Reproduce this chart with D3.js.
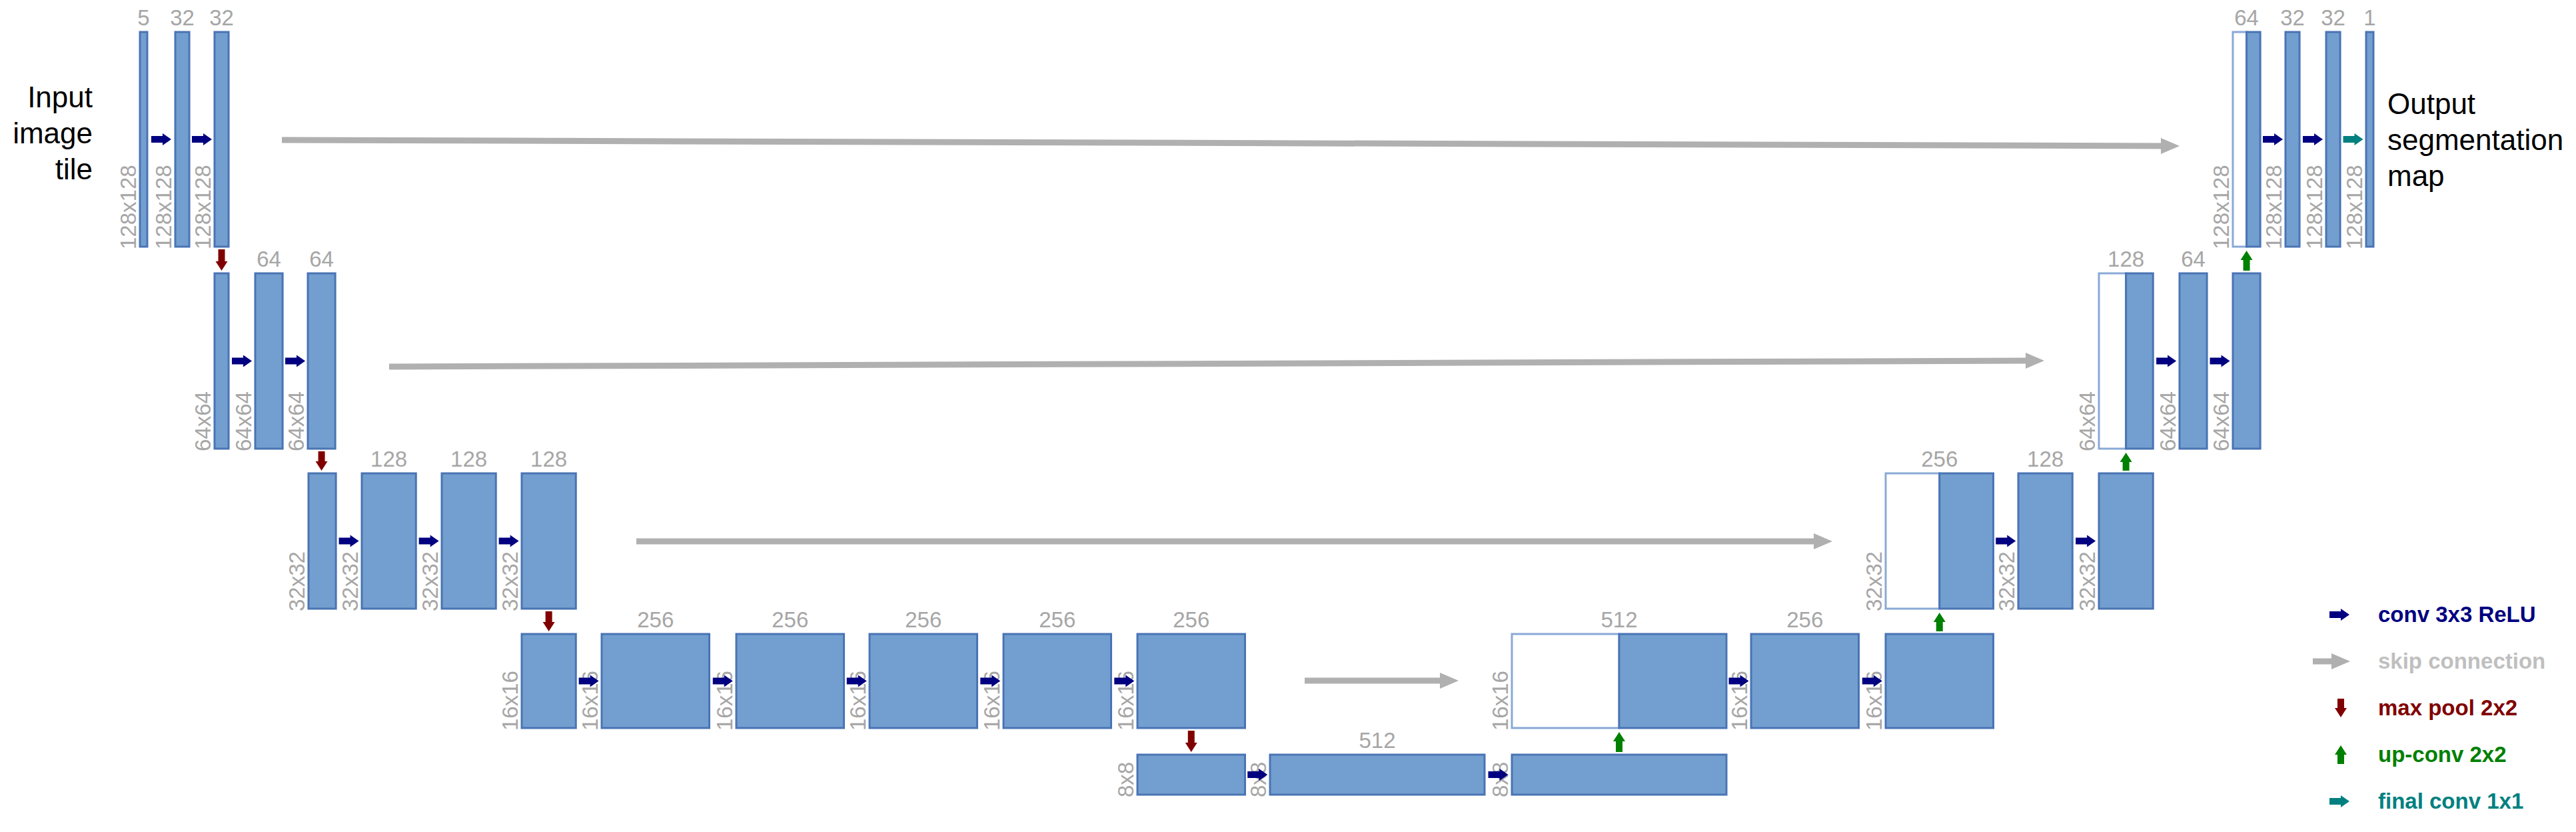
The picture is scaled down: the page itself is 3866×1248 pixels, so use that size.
<!DOCTYPE html>
<html>
<head>
<meta charset="utf-8">
<script src="https://cdn.jsdelivr.net/npm/d3@7"></script>
<style>
  body { margin: 0; background: #fff; }
  text { font-family: "Liberation Sans", Arial, sans-serif; }
</style>
</head>
<body>
<svg id="chart" width="3866" height="1248"></svg>
<script>
// spatial size per level, the top of each level's row and its drawn height
const levelSizes = [128, 64, 32, 16, 8];
const levelTops = [48, 410, 710, 951, 1132];
const levelHeights = [322, 263, 203, 141, 60];

// blocks: left edge, channels, show channel label, concat (half white)
const encLeft = [
  [[210, 5, 1], [263, 32, 1], [322, 32, 1]],
  [[322, 32, 0], [383, 64, 1], [462, 64, 1]],
  [[463, 64, 0], [543, 128, 1], [663, 128, 1], [783, 128, 1]],
  [[783, 128, 0], [903, 256, 1], [1105, 256, 1], [1305, 256, 1], [1506, 256, 1], [1707, 256, 1]],
  [[1707, 256, 0], [1906, 512, 1], [2269, 512, 0]]
];
const decRight = [
  [[3351, 64, 1, true], [3430, 32, 1], [3491, 32, 1], [3551, 1, 1]],
  [[3150, 128, 1, true], [3271, 64, 1], [3351, 64, 0]],
  [[2830, 256, 1, true], [3029, 128, 1], [3150, 128, 0]],
  [[2269, 512, 1, true], [2628, 256, 1], [2830, 256, 0]],
  []
];
// skip connections: level, start x, start y, end x, end y
const skips = [
  [0, 423, 210, 3271, 219],
  [1, 584, 550, 3068, 541],
  [2, 955, 812, 2750, 812],
  [3, 1958, 1021, 2189, 1021]
];
const legendItems = [
  ["conv", "conv 3x3 ReLU", "#000080"],
  ["skip", "skip connection", "#bfbfbf"],
  ["pool", "max pool 2x2", "#800000"],
  ["up", "up-conv 2x2", "#008000"],
  ["final", "final conv 1x1", "#008080"]
];

const svg = d3.select("#chart");
const x = d3.scaleLinear().domain([0, 3866]).range([0, 3866]);
const hScale = d3.scaleOrdinal().domain(levelSizes).range(levelHeights);
const wScale = d3.scaleLinear().domain([0, 512]).range([1, 322]);
const fill = "#729fcf", stroke = "#4a74b4", labelGrey = "#a6a6a6";

function blocks(level, list) {
  return list.map(([bx, ch, lab, cat]) => {
    const w = Math.max(11, wScale(ch));
    return { level, x: x(bx), w, ch, lab, cat, y: levelTops[level], h: hScale(levelSizes[level]) };
  });
}
const encBlocks = encLeft.map((l, i) => blocks(i, l));
const decBlocks = decRight.map((l, i) => blocks(i, l));
const all = encBlocks.flat().concat(decBlocks.flat());

const g = svg.append("g");
all.forEach(b => {
  if (b.cat) {
    g.append("rect").attr("x", b.x).attr("y", b.y).attr("width", b.w / 2).attr("height", b.h)
      .attr("fill", "#fff").attr("stroke", "#8aa9d6").attr("stroke-width", 3);
    g.append("rect").attr("x", b.x + b.w / 2).attr("y", b.y).attr("width", b.w / 2).attr("height", b.h)
      .attr("fill", fill).attr("stroke", stroke).attr("stroke-width", 3);
  } else {
    g.append("rect").attr("x", b.x).attr("y", b.y).attr("width", b.w).attr("height", b.h)
      .attr("fill", fill).attr("stroke", stroke).attr("stroke-width", 3);
  }
  if (b.lab) {
    g.append("text").attr("x", b.x + b.w / 2).attr("y", b.y - 10).attr("text-anchor", "middle")
      .attr("font-size", 33).attr("fill", labelGrey).text(b.ch);
  }
  const s = levelSizes[b.level];
  g.append("text").attr("transform", `translate(${b.x - 6},${b.y + b.h + 4}) rotate(-90)`)
    .attr("font-size", 33).attr("fill", labelGrey).text(`${s}x${s}`);
});

// arrow shapes
function hArrow(cx, cy, color, len = 30) {
  const p = `M${cx - len / 2},${cy - 5}L${cx + 2},${cy - 5}L${cx + 2},${cy - 9}L${cx + len / 2},${cy}L${cx + 2},${cy + 9}L${cx + 2},${cy + 5}L${cx - len / 2},${cy + 5}Z`;
  svg.append("path").attr("d", p).attr("fill", color);
}
function vArrow(cx, y0, y1, color) {
  const dir = Math.sign(y1 - y0), hy = y1 - dir * 14;
  const p = `M${cx - 5},${y0}L${cx + 5},${y0}L${cx + 5},${hy}L${cx + 9},${hy}L${cx},${y1}L${cx - 9},${hy}L${cx - 5},${hy}Z`;
  svg.append("path").attr("d", p).attr("fill", color);
}
function skipArrow(x0, y0, x1, y1) {
  svg.append("line").attr("x1", x0).attr("y1", y0).attr("x2", x1 - 22).attr("y2", y1)
    .attr("stroke", "#b0b0b0").attr("stroke-width", 9);
  svg.append("path").attr("d", `M${x1 - 28},${y1 - 12}L${x1},${y1}L${x1 - 28},${y1 + 12}Z`).attr("fill", "#b0b0b0");
}

// conv arrows
encBlocks.concat(decBlocks).forEach(row => {
  for (let i = 0; i < row.length - 1; i++) {
    const a = row[i], b = row[i + 1];
    const isFinal = a.level === 0 && b.ch === 1;
    hArrow((a.x + a.w + b.x) / 2, a.y + a.h / 2, isFinal ? "#008080" : "#000080");
  }
});
// max pool
for (let l = 0; l < 4; l++) {
  const a = encBlocks[l][encBlocks[l].length - 1];
  vArrow(a.x + a.w / 2, a.y + a.h + 4, levelTops[l + 1] - 4, "#800000");
}
// up-conv
for (let l = 0; l < 4; l++) {
  const lower = l === 3 ? encBlocks[4][2] : decBlocks[l + 1][decBlocks[l + 1].length - 1];
  const top = decBlocks[l][0];
  vArrow(lower.x + lower.w / 2, lower.y - 4, top.y + top.h + 6, "#008000");
}
skips.forEach(([l, x0, y0, x1, y1]) => skipArrow(x(x0), y0, x(x1), y1));

// side texts
const side = svg.append("g").attr("font-size", 44).attr("fill", "#000");
["Input", "image", "tile"].forEach((t, i) =>
  side.append("text").attr("x", 139).attr("y", 161 + i * 54).attr("text-anchor", "end").text(t));
["Output", "segmentation", "map"].forEach((t, i) =>
  side.append("text").attr("x", 3583).attr("y", 171 + i * 54).text(t));

// legend
legendItems.forEach(([kind, label, color], i) => {
  const cy = 922 + i * 70;
  if (kind === "conv" || kind === "final") hArrow(3511, cy, color);
  else if (kind === "skip") skipArrow(3471, cy, 3527, cy);
  else if (kind === "pool") vArrow(3513, cy - 14, cy + 14, color);
  else vArrow(3513, cy + 14, cy - 14, color);
  svg.append("text").attr("x", 3569).attr("y", cy + 11).attr("font-size", 33)
    .attr("font-weight", "bold").attr("fill", color).text(label);
});
</script>
</body>
</html>
